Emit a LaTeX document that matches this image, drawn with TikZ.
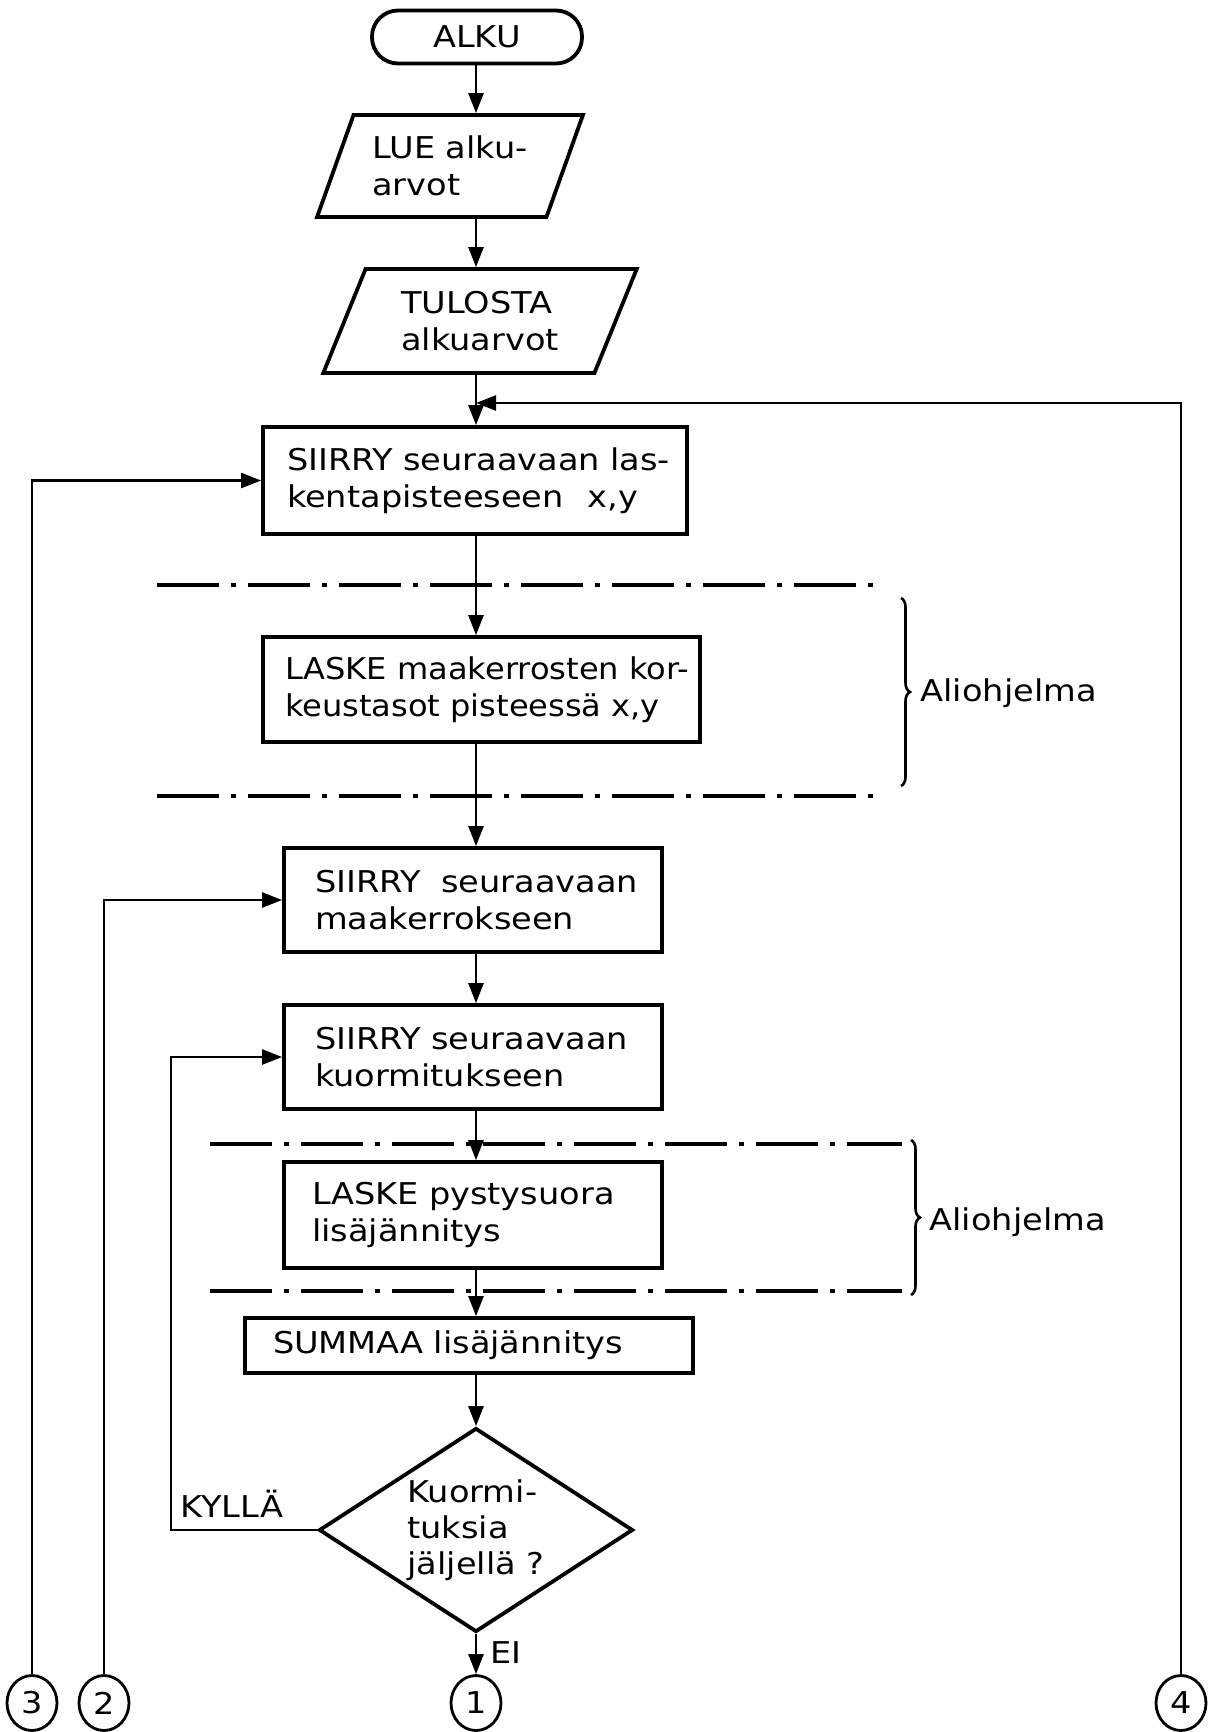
\documentclass[tikz,border=0pt]{standalone}
\usepackage{fontspec}
\setmainfont{DejaVu Sans}[FakeStretch=1.12]
\newfontfamily\narrowfont{DejaVu Sans}[FakeStretch=1.07]
\usetikzlibrary{arrows.meta,shapes.geometric,decorations.pathreplacing}
\begin{document}
\begin{tikzpicture}[x=1pt,y=-1pt,
  every node/.style={font=\fontsize{30}{37}\selectfont},
  box/.style={draw, line width=3.8pt, rectangle, align=left, inner ysep=0pt},
  io/.style={draw, line width=3.8pt, trapezium, trapezium left angle=64,
    trapezium right angle=116, trapezium stretches=true, align=left, inner sep=0pt},
  term/.style={draw, line width=3.8pt, rounded corners=26pt,
    minimum width=210pt, minimum height=53pt},
  decision/.style={draw, line width=3.8pt, diamond, aspect=1.53,
    minimum width=314pt, minimum height=204pt, inner sep=0pt, align=left,
    font=\fontsize{30}{36}\selectfont},
  conn/.style={draw, line width=2.8pt, ellipse, minimum width=50pt,
    minimum height=55pt, inner sep=0pt},
  flow/.style={line width=2.5pt},
  arr/.style={flow, -{Triangle[length=20pt,width=15pt]}},
  band/.style={line width=3.4pt, dash pattern=on 62pt off 12pt on 5pt off 12pt},
  curly/.style={line width=2.6pt, decorate, decoration={brace, amplitude=9pt}},
]
% page
\fill[white] (0,0) rectangle (1208,1732);
\useasboundingbox (0,0) rectangle (1208,1732);
\coordinate (ax) at (476,0);

% subroutine bands
\draw[band] (157,585) -- (882,585);
\draw[band] (157,796) -- (882,796);
\draw[band] (210,1144) -- (902,1144);
\draw[band] (210,1291) -- (902,1291);
\draw[curly] (901,598) -- (901,786);
\node[anchor=west] (ali1) at (917,693) {Aliohjelma};
\draw[curly] (911,1140) -- (911,1295);
\node[anchor=west] (ali2) at (926,1222) {Aliohjelma};

% flow chart symbols
\node[term] (alku) at (477,37) {ALKU};
\node[io, minimum width=266pt, minimum height=102pt] (lue) at (450,166)
  {\mbox{LUE alku-}\\\mbox{arvot}};
\node[io, minimum width=314pt, minimum height=104pt] (tul) at (480,321)
  {\mbox{TULOSTA}\\\mbox{alkuarvot}};
\node[box, minimum width=424pt, minimum height=107pt, inner xsep=24pt,
  text width=376pt] (s1) at (475,480.5)
  {\mbox{SIIRRY seuraavaan las-}\\\mbox{kentapisteeseen\hspace{14pt} x,y}};
\node[box, minimum width=437pt, minimum height=105pt, inner xsep=22pt,
  text width=393pt, font=\narrowfont\fontsize{30}{37}\selectfont] (l1) at (481.5,689.5)
  {\mbox{LASKE maakerrosten kor-}\\\mbox{keustasot pisteessä x,y}};
\node[box, minimum width=378pt, minimum height=104pt, inner xsep=31pt,
  text width=316pt] (s2) at (473,900)
  {\mbox{SIIRRY\ \ seuraavaan}\\\mbox{maakerrokseen}};
\node[box, minimum width=378pt, minimum height=104pt, inner xsep=31pt,
  text width=316pt] (s3) at (473,1057)
  {\mbox{SIIRRY seuraavaan}\\\mbox{kuormitukseen}};
\node[box, minimum width=378pt, minimum height=106pt, inner xsep=28pt,
  text width=322pt] (l2) at (473,1215)
  {\mbox{LASKE pystysuora}\\\mbox{lisäjännitys}};
\node[box, minimum width=448pt, minimum height=55pt, inner xsep=28pt,
  text width=392pt] (sum) at (469,1345.5)
  {\mbox{SUMMAA lisäjännitys}};
\node[decision] (dec) at (476,1530) {Kuormi-\\tuksia\\jäljellä ?};

% off-page connectors
\node[conn] (c3) at (32,1703) {3};
\node[conn] (c2) at (104,1703) {2};
\node[conn] (c1) at (476,1703) {1};
\node[conn] (c4) at (1181,1703) {4};

% main flow
\draw[arr] (ax |- alku.south) -- (ax |- lue.north);
\draw[arr] (ax |- lue.south) -- (ax |- tul.north);
\draw[arr] (ax |- tul.south) -- (ax |- s1.north);
\draw[arr] (ax |- s1.south) -- (ax |- l1.north);
\draw[arr] (ax |- l1.south) -- (ax |- s2.north);
\draw[arr] (ax |- s2.south) -- (ax |- s3.north);
\draw[arr] (ax |- s3.south) -- (ax |- l2.north);
\draw[arr] (ax |- l2.south) -- (ax |- sum.north);
\draw[arr] (ax |- sum.south) -- (dec.north);
\draw[arr] (dec.south) -- (c1.north);
\node[anchor=base west] (ei) at (487,1663) {EI};

% loops
\coordinate (join) at (476,403);
\draw[arr] (c4.north) |- (join);
\draw[arr] (c3.north) |- (s1.west);
\draw[arr] (c2.north) |- (s2.west);
\coordinate (kyc) at (171,1530);
\draw[arr] (dec.west) -- (kyc) |- (s3.west);
\node[anchor=base west] (kylla) at (177,1517) {KYLLÄ};
\end{tikzpicture}
\end{document}
